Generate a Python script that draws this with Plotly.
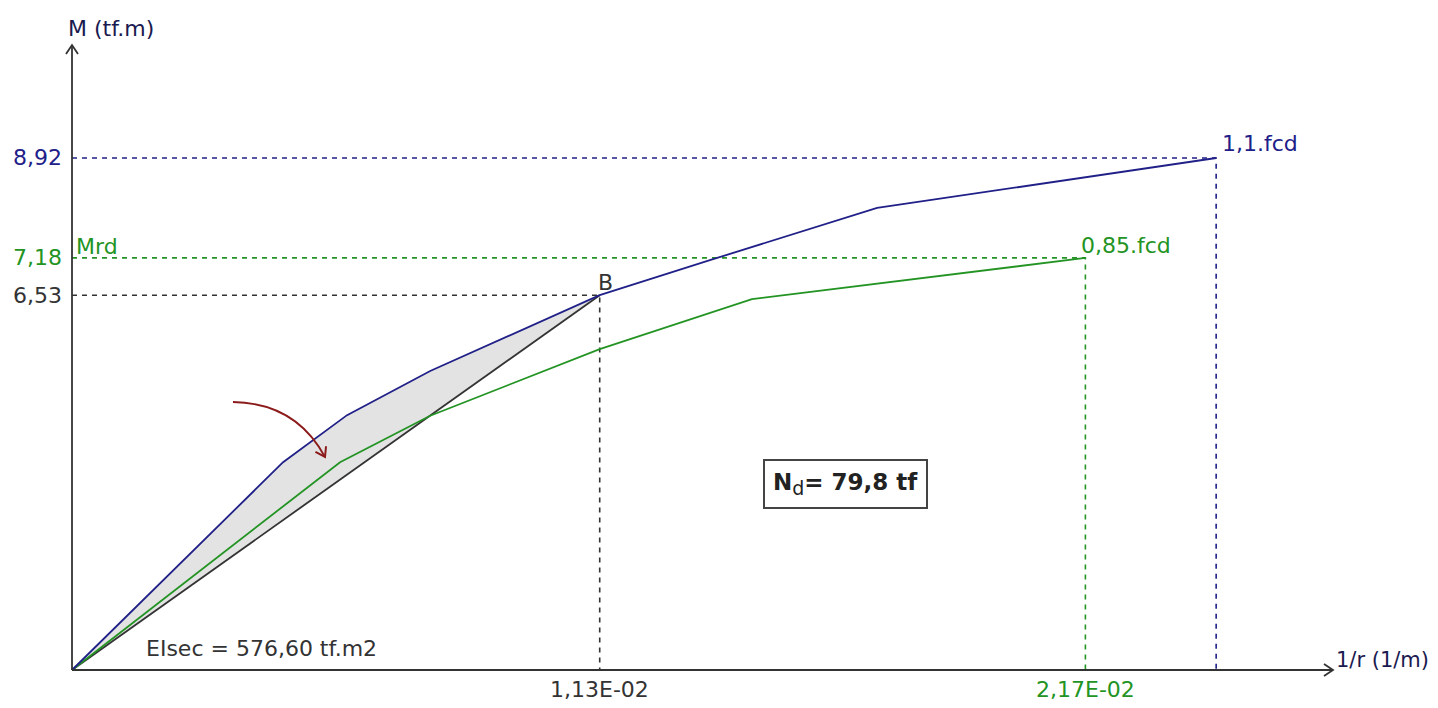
import math
import plotly.graph_objects as go

# ---------------- data ----------------
# 1,1.fcd curve (blue)
curv_blue = [0, 0.00452, 0.00589, 0.00767, 0.0113, 0.01366, 0.01724, 0.0245]
mom_blue = [0, 3.62, 4.44, 5.21, 6.53, 7.14, 8.05, 8.92]
# 0,85.fcd curve (green)
curv_green = [0, 0.00574, 0.00767, 0.0113, 0.01456, 0.0217]
mom_green = [0, 3.62, 4.43, 5.59, 6.46, 7.18]
# point B (secant)
curv_B = 0.0113
mom_B = 6.53
# ultimate values
curv_110 = 0.0245
mom_110 = 8.92
curv_rd = 0.0217
mom_rd = 7.18

ytick_vals = [8.92, 7.18, 6.53]
ytick_labels = ["8,92", "7,18", "6,53"]
xtick_vals = [0.0113, 0.0217]
xtick_labels = ["1,13E-02", "2,17E-02"]

BLUE = "#202088"
GREEN = "#239423"
DARK = "#333333"
RED = "#8b1a1a"
FONT = "DejaVu Sans"
FS = 22

# body margin is removed in the page, so the figure fills the window
X0PX, Y0PX = 72, 670          # origin in window pixels
SX, SY = 46700.0, 57.4        # pixels per data unit
W, H = 1438, 708
xr = [-X0PX / SX, (W - X0PX) / SX]
yr = [(Y0PX - H) / SY, Y0PX / SY]

def px(x):
    return (x - X0PX) / SX

def py(y):
    return (Y0PX - y) / SY

fig = go.Figure()

def line(x, y, color, width=2, dash=None):
    fig.add_trace(go.Scatter(x=x, y=y, mode="lines", hoverinfo="skip",
                             line=dict(color=color, width=width, dash=dash)))

# grey area between blue curve and secant up to B
nB = curv_blue.index(curv_B)
fx = curv_blue[: nB + 1] + [0]
fy = mom_blue[: nB + 1] + [0]
fig.add_trace(go.Scatter(x=fx, y=fy, fill="toself", fillcolor="#e3e3e3",
                         line=dict(width=0), mode="lines", hoverinfo="skip"))

# dashed reference lines
DASH = "5px,5px"
line([0, curv_110, curv_110], [mom_110, mom_110, 0], BLUE, 1.6, DASH)
line([0, curv_rd, curv_rd], [mom_rd, mom_rd, 0], GREEN, 1.6, DASH)
line([0, curv_B, curv_B], [mom_B, mom_B, 0], DARK, 1.6, DASH)

# secant, green and blue curves
line([0, curv_B], [0, mom_B], DARK, 1.8)
line(curv_green, mom_green, GREEN, 1.8)
line(curv_blue, mom_blue, BLUE, 1.8)

# axes with open arrow heads
x_end, y_end = px(1333), py(45)
line([0, x_end], [0, 0], DARK, 1.8)
line([0, 0], [0, y_end], DARK, 1.8)
line([x_end - 9 / SX, x_end, x_end - 9 / SX], [6 / SY, 0, -6 / SY], DARK, 1.8)
line([-6 / SX, 0, 6 / SX], [y_end - 9 / SY, y_end, y_end - 9 / SY], DARK, 1.8)

# curved arrow (dark red)
p0 = (233, 402)
c0 = (296, 403)
p2 = (325, 457)
shapes = [dict(type="path", xref="x", yref="y",
               path=f"M {px(p0[0])},{py(p0[1])} Q {px(c0[0])},{py(c0[1])} {px(p2[0])},{py(p2[1])}",
               line=dict(color=RED, width=1.8))]
dxp, dyp = p2[0] - c0[0], p2[1] - c0[1]
ln = math.hypot(dxp, dyp)
dxp, dyp = dxp / ln, dyp / ln
nxp, nyp = -dyp, dxp
a1 = (p2[0] - 9 * dxp + 6 * nxp, p2[1] - 9 * dyp + 6 * nyp)
a2 = (p2[0] - 9 * dxp - 6 * nxp, p2[1] - 9 * dyp - 6 * nyp)
line([px(a1[0]), px(p2[0]), px(a2[0])], [py(a1[1]), py(p2[1]), py(a2[1])], RED, 2)

ann = []

def txt(x, y, s, color, xanchor="left", yanchor="middle", size=FS, **kw):
    d = dict(x=x, y=y, text=s, showarrow=False, xanchor=xanchor, yanchor=yanchor,
             font=dict(family=FONT, size=size, color=color), xref="x", yref="y")
    d.update(kw)
    ann.append(d)

txt(px(66), py(28), "M (tf.m)", "#1a1a50")
txt(px(1334), py(660), "1/r (1/m)", "#1a1a50", size=21)

ycols = [BLUE, GREEN, DARK]
for v, l, c in zip(ytick_vals, ytick_labels, ycols):
    txt(px(64), v, l, c, xanchor="right")
xcols = [DARK, GREEN]
for v, l, c in zip(xtick_vals, xtick_labels, xcols):
    txt(v, py(689), l, c, xanchor="center")

txt(px(1220), py(143), "1,1.fcd", BLUE)
txt(px(1079), py(245), "0,85.fcd", GREEN)
txt(px(74), py(246), "Mrd", GREEN)
txt(curv_B + 0.00012, py(282), "B", DARK, xanchor="center")
txt(px(144), py(648), "EIsec = 576,60 tf.m2", DARK)
txt(px(845), py(484),
    "<b>N</b><sub><span style='font-size:19px'>d</span></sub><b>= 79,8 tf</b>",
    "#222222", xanchor="center", size=23,
    bordercolor="#444444", borderwidth=2, borderpad=8, bgcolor="white")

fig.update_layout(
    width=W, height=H, margin=dict(l=0, r=0, t=0, b=0),
    paper_bgcolor="white", plot_bgcolor="white", showlegend=False,
    xaxis=dict(range=xr, visible=False, fixedrange=True),
    yaxis=dict(range=yr, visible=False, fixedrange=True),
    annotations=ann, shapes=shapes,
)
fig.write_html(
    "out.html",
    config={"displayModeBar": False},
    post_script="document.body.style.margin='0px';document.body.style.overflow='hidden';",
)
